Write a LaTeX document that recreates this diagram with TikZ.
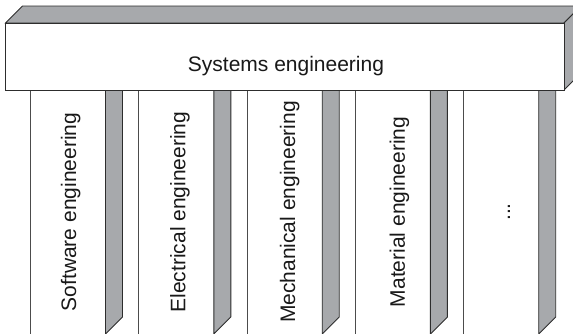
\documentclass[tikz,border=0pt]{standalone}
\usepackage{fontspec}
\setmainfont{Liberation Sans}
\definecolor{facegray}{RGB}{167,169,172}
\definecolor{edge}{RGB}{45,45,45}
\newcommand\mythreedots{...}
\begin{document}
\begin{tikzpicture}[x=1pt,y=-1pt,
  edgeline/.style={draw=edge,line width=0.9pt,line join=miter},
  sideface/.style={edgeline,fill=facegray},
  frontface/.style={edgeline,fill=white},
  collabel/.style={anchor=base,rotate=90,inner sep=0pt,font=\fontsize{21}{25}\selectfont,text=black!90},
  toplabel/.style={anchor=base,inner sep=0pt,font=\fontsize{21}{25}\selectfont,text=black!90}]
\useasboundingbox (0,0) rectangle (573,333);
\clip (0,0) rectangle (573,333);
% columns
\foreach \n/\L/\b/\txt in {1/30.5/45.5/Software engineering,
                           2/138.8/46.5/Electrical engineering,
                           3/247.2/48/Mechanical engineering,
                           4/355.4/49.5/Material engineering,
                           5/463.7/46.5/\mythreedots}{
  \draw[edgeline,draw=edge!85] (\L,90) -- (\L,340);
  \draw[sideface] (\L+75,90) -- (\L+92,90) -- (\L+92,317) -- (\L+75,334) -- cycle;
  \node[collabel] (col\n) at (\L+\b,212) {\txt};
}
% top box
\draw[sideface] (5.5,23) -- (22.5,6) -- (581,6) -- (564,23) -- cycle;
\draw[sideface] (564,23) -- (581,6) -- (581,73) -- (564,90) -- cycle;
\draw[frontface] (5.5,23) rectangle (564,90);
\node[toplabel] (sys) at (286,71) {Systems engineering};
\end{tikzpicture}
\end{document}
